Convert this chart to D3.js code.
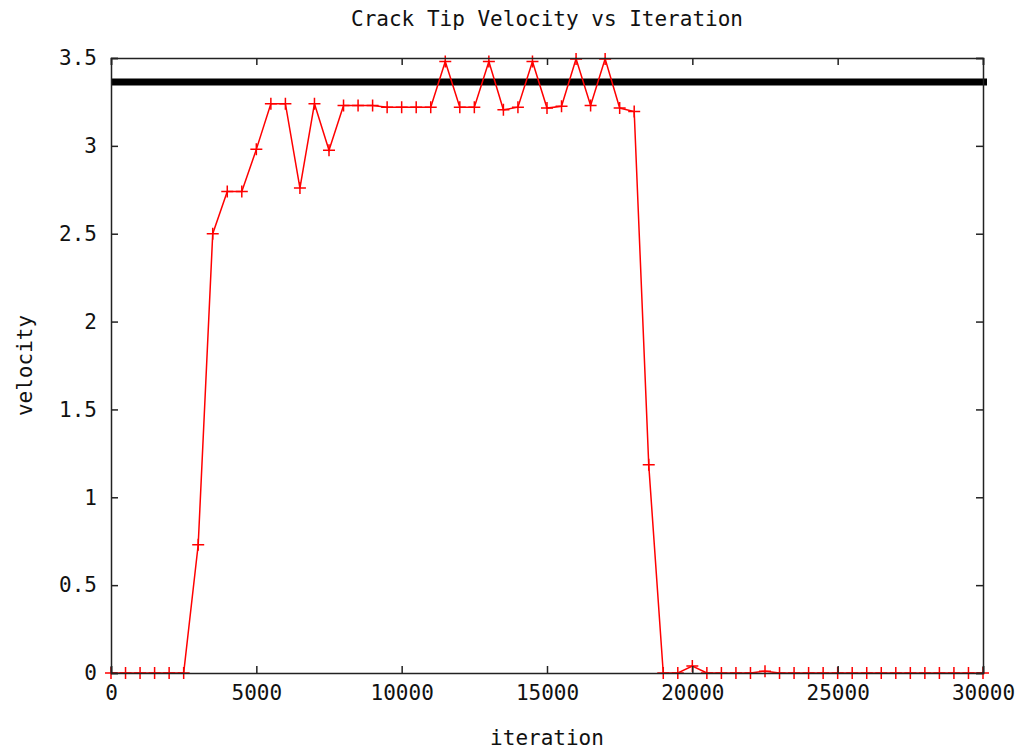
<!DOCTYPE html>
<html lang="en">
<head>
<meta charset="UTF-8">
<title>Crack Tip Velocity vs Iteration</title>
<script src="https://d3js.org/d3.v7.min.js"></script>
<style>
    body { margin: 0; background: #fff; }
    text { font-family: "DejaVu Sans Mono", "Liberation Mono", monospace; font-size: 21px; fill: #111; }
</style>
</head>
<body>
<div id="chart"></div>
<script>
    // data: one point every 500 iterations
    const iterations = d3.range(0, 30001, 500);
    const velocity = [
        0, 0, 0, 0, 0, 0, 0.73, 2.50, 2.74, 2.74,
        2.98, 3.24, 3.24, 2.76, 3.24, 2.975, 3.23, 3.23, 3.23, 3.22,
        3.22, 3.22, 3.22, 3.48, 3.22, 3.22, 3.48, 3.205, 3.22, 3.48,
        3.215, 3.225, 3.495, 3.23, 3.495, 3.215, 3.195, 1.185, 0, 0,
        0.04, 0, 0, 0, 0, 0.01, 0, 0, 0, 0,
        0, 0, 0, 0, 0, 0, 0, 0, 0, 0,
        0
    ];
    const refVelocity = 3.363;
    const xTicks = [0, 5000, 10000, 15000, 20000, 25000, 30000];
    const yTicks = [0, 0.5, 1, 1.5, 2, 2.5, 3, 3.5];

    const W = 1025, H = 749;
    const margin = { top: 58, right: 42, bottom: 76, left: 111 };

    const svg = d3.select("#chart").append("svg")
        .attr("width", W)
        .attr("height", H);
    svg.append("rect").attr("width", W).attr("height", H).attr("fill", "#fff");

    const x = d3.scaleLinear().domain([0, 30000]).range([margin.left, W - margin.right]);
    const y = d3.scaleLinear().domain([0, 3.5]).range([H - margin.bottom, margin.top]);

    const data = iterations.map((it, i) => ({ it, v: velocity[i] }));

    // thick reference line
    svg.append("line")
        .attr("x1", x(0)).attr("x2", x(30000) + 4)
        .attr("y1", y(refVelocity)).attr("y2", y(refVelocity))
        .attr("stroke", "#000")
        .attr("stroke-width", 7);

    // red series
    svg.append("path")
        .datum(data)
        .attr("fill", "none")
        .attr("stroke", "#ff0000")
        .attr("stroke-width", 1.5)
        .attr("d", d3.line().x(d => x(d.it)).y(d => y(d.v)));

    svg.append("g")
        .selectAll("path")
        .data(data)
        .join("path")
        .attr("stroke", "#ff0000")
        .attr("stroke-width", 1.5)
        .attr("d", d => `M${x(d.it) - 6},${y(d.v)}h12M${x(d.it)},${y(d.v) - 6}v12`);

    // axes, gnuplot style: inward ticks mirrored on all sides
    const tick = 7;
    const axisCol = "#222";
    svg.append("g")
        .attr("transform", `translate(0,${y(0)})`)
        .call(d3.axisBottom(x).tickValues(xTicks).tickSize(-tick).tickPadding(12).tickFormat(d3.format("d")))
        .call(g => g.selectAll("text").attr("dy", "0.71em"));
    svg.append("g")
        .attr("transform", `translate(0,${y(3.5)})`)
        .call(d3.axisTop(x).tickValues(xTicks).tickSize(-tick).tickFormat(""));
    svg.append("g")
        .attr("transform", `translate(${x(0)},0)`)
        .call(d3.axisLeft(y).tickValues(yTicks).tickSize(-tick).tickPadding(14).tickFormat(d => d));
    svg.append("g")
        .attr("transform", `translate(${x(30000)},0)`)
        .call(d3.axisRight(y).tickValues(yTicks).tickSize(-tick).tickFormat(""));

    svg.selectAll(".domain").attr("stroke", axisCol).attr("stroke-width", 1.5);
    svg.selectAll(".tick line").attr("stroke", axisCol).attr("stroke-width", 1.5);
    svg.selectAll(".tick text").style("font-family", "DejaVu Sans Mono").style("font-size", "21px").attr("fill", "#111");

    // titles
    svg.append("text")
        .attr("x", (x(0) + x(30000)) / 2)
        .attr("y", 26)
        .attr("text-anchor", "middle")
        .text("Crack Tip Velocity vs Iteration");
    svg.append("text")
        .attr("x", (x(0) + x(30000)) / 2)
        .attr("y", 745)
        .attr("text-anchor", "middle")
        .text("iteration");
    svg.append("text")
        .attr("transform", `translate(32,${(y(0) + y(3.5)) / 2}) rotate(-90)`)
        .attr("text-anchor", "middle")
        .text("velocity");
</script>
</body>
</html>
